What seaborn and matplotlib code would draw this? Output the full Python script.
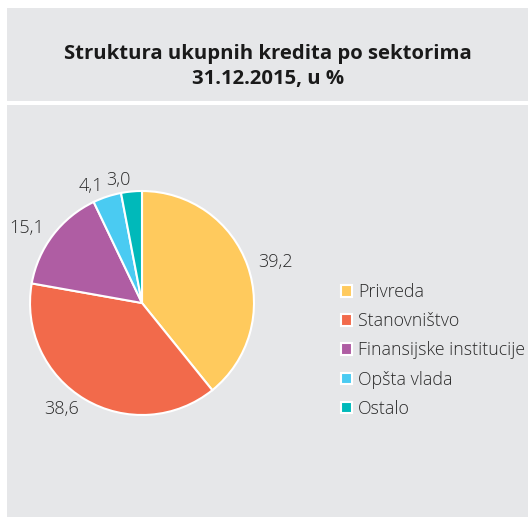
import matplotlib
matplotlib.use("Agg")
import matplotlib.pyplot as plt
import seaborn as sns
from matplotlib.patches import Rectangle

categories = ["Privreda", "Stanovništvo", "Finansijske institucije", "Opšta vlada", "Ostalo"]
values = [39.2, 38.6, 15.1, 4.1, 3.0]
value_labels = ["39,2", "38,6", "15,1", "4,1", "3,0"]
colors = ["#FFCA5D", "#F26A4B", "#AF5DA3", "#4ACBF2", "#00B9BA"]
title_lines = ["Struktura ukupnih kredita po sektorima", "31.12.2015, u %"]

sns.set_theme(style="white")
plt.rcParams['font.family'] = ['Open Sans', 'DejaVu Sans']
palette = sns.color_palette(colors)

W, H = 529, 517
fig = plt.figure(figsize=(W / 100, H / 100), dpi=100)
fig.patch.set_facecolor('white')


def fx(px):
    return px / W


def fy(py):
    return 1 - py / H


bg = "#E6E7E9"
fig.patches.append(Rectangle((fx(7), fy(101)), fx(528) - fx(7), fy(8) - fy(101),
                             transform=fig.transFigure, facecolor=bg, edgecolor='none', zorder=-5))
fig.patches.append(Rectangle((fx(7), fy(517)), fx(528) - fx(7), fy(105) - fy(517),
                             transform=fig.transFigure, facecolor=bg, edgecolor='none', zorder=-5))

fig.text(fx(268), fy(59), title_lines[0], ha='center', va='baseline', fontsize=14.6,
         fontweight='bold', color='#1a1a1a')
fig.text(fx(268), fy(84), title_lines[1], ha='center', va='baseline', fontsize=14.6,
         fontweight='bold', color='#1a1a1a')

ax = fig.add_axes([fx(30), fy(415), 224 / W, 224 / H])
wedges, texts = ax.pie(values, labels=value_labels, colors=palette, startangle=90,
                       counterclock=False, labeldistance=1.1, radius=1,
                       wedgeprops=dict(edgecolor='white', linewidth=1.5),
                       textprops=dict(fontsize=13, color='#2a2a2a', fontweight='light'))
ax.set_xlim(-1, 1)
ax.set_ylim(-1, 1)
ax.set_facecolor('none')
ax.axis('off')

leg = ax.legend(wedges, categories, loc='upper left', bbox_to_anchor=(fx(341), fy(283)),
                bbox_transform=fig.transFigure, frameon=False, borderpad=0, borderaxespad=0,
                handlelength=0.62, handleheight=0.62, handletextpad=0.35, labelspacing=0.63,
                fontsize=12.8, labelcolor='#2a2a2a')
for t in leg.get_texts():
    t.set_fontweight('light')

fig.savefig("out.png", dpi=100, facecolor='white')
